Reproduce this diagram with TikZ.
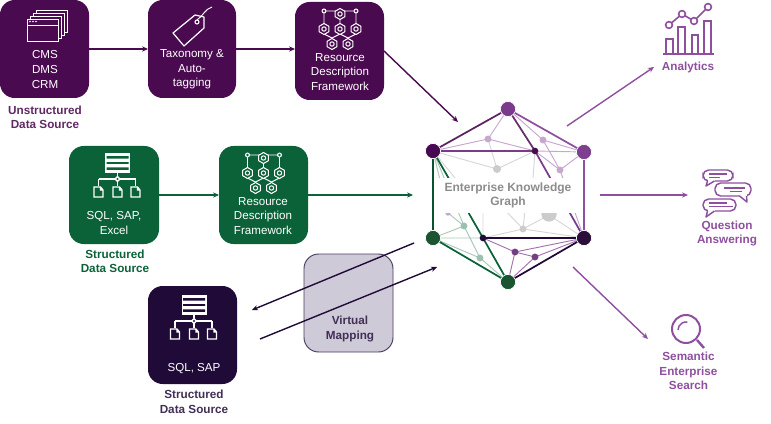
\documentclass[tikz,border=0pt]{standalone}
\usepackage{fontspec}
\setmainfont{Liberation Sans}
\usetikzlibrary{arrows.meta}
\definecolor{pdark}{HTML}{4A0A4F}
\definecolor{gdark}{HTML}{0B6239}
\definecolor{ndark}{HTML}{1F0A38}
\definecolor{pmid}{HTML}{8E4F9E}
\definecolor{vbox}{HTML}{CFCAD8}
\definecolor{lblgray}{HTML}{8C8C8C}
\definecolor{gtop}{HTML}{7A3B8B}
\definecolor{gul}{HTML}{470A52}
\definecolor{gur}{HTML}{7F3F90}
\definecolor{gll}{HTML}{1B5430}
\definecolor{glr}{HTML}{2C0E3A}
\definecolor{gbt}{HTML}{1B5430}
\newcommand{\hexa}[3]{\draw[white,line width=.75pt,fill=#3,shift={(#1,#2)}] (0,-5.5)--(4.8,-2.75)--(4.8,2.75)--(0,5.5)--(-4.8,2.75)--(-4.8,-2.75)--cycle (0,0) circle (2.2);}
\newcommand{\rdficon}[3]{\begin{scope}[shift={(#1,#2)}]
\draw[white,line width=.7pt] (-16,11)--(16,11) (-16,11)--(-16,24) (16,11)--(16,24) (-16,34)--(-8,38) (0,34)--(-8,38) (0,34)--(8,38) (16,34)--(8,38) (-8,38)--(-8,40) (8,38)--(8,40) (0,14)--(0,24);
\fill[white] (-16,11) circle (2.5) (16,11) circle (2.5);
\fill[#3] (-16,11) circle (1.3) (16,11) circle (1.3);
\hexa{0}{14}{#3}\hexa{-16}{29}{#3}\hexa{0}{29}{#3}\hexa{16}{29}{#3}\hexa{-8}{44}{#3}\hexa{8}{44}{#3}
\end{scope}}
\newcommand{\docicon}[3]{\draw[white,line width=1pt,fill=#3,shift={(#1,#2)}] (-4.5,-5)--(2,-5)--(4.5,-2)--(4.5,5)--(-4.5,5)--cycle (2,-5)--(2,-2)--(4.5,-2);}
\newcommand{\srvicon}[3]{\begin{scope}[shift={(#1,#2)}]
\fill[white] (-12.5,0) rectangle (12.5,20);
\fill[#3] (-11,3.2) rectangle (11,5.6) (-11,9.2) rectangle (11,10.8) (-11,14.4) rectangle (11,16.8);
\draw[white,line width=.8pt] (0,20)--(0,23) (-19,26)--(18,26) (-19,26)--(-19,33) (0,26)--(0,33) (18,26)--(18,33);
\fill[white,rotate around={45:(0,26)}] (-2.4,23.6) rectangle (2.4,28.4);
\fill[#3] (0,26) circle (1.1);
\docicon{-19}{39}{#3}\docicon{0}{39}{#3}\docicon{18}{39}{#3}
\end{scope}}
\newcommand{\bubble}[7]{\draw[pmid,line width=1.1pt,rounded corners=4.2pt] (#1,#2) rectangle (#3,#4);
\fill[white] (#5-3.5,#4-1.5) rectangle (#5+3.5,#4+1.5);
\draw[pmid,line width=1.1pt,line join=round] (#5-3.5,#4) -- (#6,#7) -- (#5+3.5,#4);}
\tikzset{
 x=.75pt,y=-.75pt,
 box/.style={rounded corners=11pt,inner sep=0pt,line width=0pt,draw=none},
 btext/.style={text=white,align=center,font=\fontsize{8.7}{10.9}\selectfont,inner sep=0pt},
 lbl/.style={align=center,font=\fontsize{8.8}{10.8}\selectfont\bfseries,inner sep=0pt},
 conn/.style={line width=1.05pt,-{Stealth[length=4.5pt,width=4pt]}},
 gv/.style={circle,inner sep=0pt,minimum size=11.4pt,line width=.5pt,draw=white},
 gi/.style={circle,inner sep=0pt,minimum size=5.2pt},
 e1/.style={line width=.7pt},
 e2/.style={line width=1.3pt},
}
\begin{document}
\begin{tikzpicture}
\useasboundingbox (0,0) rectangle (771,424);
% boxes
\node[box,fill=pdark,minimum width=66.75pt,minimum height=73.5pt] (b1) at (44.5,49) {};
\node[box,fill=pdark,minimum width=66pt,minimum height=73.5pt] (b2) at (192,49) {};
\node[box,fill=pdark,minimum width=66.75pt,minimum height=73.5pt] (b3) at (339.5,51) {};
\node[box,fill=gdark,minimum width=67.5pt,minimum height=73.5pt] (g1) at (114,195) {};
\node[box,fill=gdark,minimum width=66.75pt,minimum height=73.5pt] (g2) at (263.5,195) {};
\node[box,fill=ndark,minimum width=66.75pt,minimum height=73.5pt] (n1) at (192.5,335) {};
\node[box,fill=vbox,draw=ndark!75!vbox,line width=.7pt,minimum width=66.75pt,minimum height=73.5pt] (vm) at (348.5,303) {};
% box texts
\node[btext] (t1) at (45,69.5) {CMS\\DMS\\CRM};
\node[btext] (t2) at (192,69.5) {Taxonomy \&\\Auto-\\tagging};
\node[btext] (t3) at (340,72) {Resource\\Description\\Framework};
\node[btext] (t4) at (114,223) {SQL, SAP,\\Excel};
\node[btext] (t5) at (263,216) {Resource\\Description\\Framework};
\node[btext] (t6) at (194,369) {SQL, SAP};
\node[lbl,text=ndark!85!white] (t7) at (350,329) {Virtual\\Mapping};
% labels
\node[lbl,text=pdark!88!white] (l1) at (45,117.5) {Unstructured\\Data Source};
\node[lbl,text=gdark] (l2) at (115,261.5) {Structured\\Data Source};
\node[lbl,text=ndark!85!white] (l3) at (194,402) {Structured\\Data Source};
\node[lbl,text=pmid] (l4) at (688,67) {Analytics};
\node[lbl,text=pmid] (l5) at (727,233.5) {Question\\Answering};
\node[lbl,text=pmid] (l6) at (688.5,371) {Semantic\\Enterprise\\Search};
% icons
\begin{scope}
\foreach \d in {9,6,3,0}{
 \draw[white,line width=.7pt,fill=pdark,shift={(\d,-\d)}] (27,19) rectangle (58,41);
}
\draw[white,line width=.7pt] (27,25)--(58,25);
\fill[white] (30,21.5) circle (.9) (33,21.5) circle (.9) (36,21.5) circle (.9);
\end{scope}
\draw[white,line width=.9pt,line join=round] (195,15)--(173,33)--(184,46)--(204,28)--(204,17)--cycle;
\draw[white,line width=.8pt] (197,22) circle (2);
\draw[white,line width=.7pt] (197,20) .. controls (203,16) and (205,9) .. (212,7);
\rdficon{340}{0}{pdark}
\rdficon{263.5}{144}{gdark}
\srvicon{117.5}{153}{gdark}
\srvicon{194}{295}{ndark}
% analytics icon
\begin{scope}[pmid]
\draw[line width=1.2pt] (663,54)--(714,54);
\draw[line width=1.2pt] (666,54)--(666,39)--(673,39)--(673,54) (678,54)--(678,27)--(685,27)--(685,54) (692,54)--(692,35)--(698,35)--(698,54) (704,54)--(704,21)--(711,21)--(711,54);
\draw[line width=1.2pt] (669,25)--(682,14)--(694,21)--(708,7);
\draw[line width=1.2pt,fill=white] (669,25) circle (3.4) (682,14) circle (3.4) (694,21) circle (3.4) (708,7) circle (3.4);
\end{scope}
% bubbles
\bubble{703}{170}{733}{181}{711}{706}{186}
\bubble{715}{183}{751}{196}{743}{747}{202}
\bubble{703}{199}{736}{211}{711}{706}{217}
\draw[pmid,line width=.9pt] (709,174)--(727,174) (709,177.5)--(720,177.5) (724,188)--(745,188) (730,191.5)--(742,191.5) (709,203)--(727,203) (709,206.5)--(733,206.5);
% search
\draw[pmid,line width=1.5pt] (686,329) circle (14);
\draw[pmid,line width=1.1pt] (678,330) arc[start angle=180,end angle=280,radius=8];
\draw[pmid,line width=1.8pt] (697,340)--(704,348);
% graph vertices
\coordinate (vT) at (508,109);
\coordinate (vUL) at (433,151);
\coordinate (vUR) at (584,152);
\coordinate (vLL) at (433,238);
\coordinate (vLR) at (584,238);
\coordinate (vB) at (508,282);
\coordinate (a) at (488,139);
\coordinate (c) at (535,151);
\coordinate (d) at (543,140);
\coordinate (f) at (560,170);
\coordinate (g) at (497,169);
\coordinate (h) at (464,226);
\coordinate (i) at (483,238);
\coordinate (j) at (480,258);
\coordinate (k) at (523,229);
\coordinate (m) at (549,215);
\coordinate (n) at (515,252);
\coordinate (o) at (535,257);
\coordinate (q) at (448,213);
% light edges
\begin{scope}[e1,draw=pmid!50!white]
\draw (vT)--(a) (a)--(vUL) (a)--(c) (vT)--(d) (d)--(vUR) (d)--(f) (c)--(f) (f)--(vUR) (c)--(vUR) (f)--(vLR);
\end{scope}
\begin{scope}[e1,draw=black!16]
\draw (a)--(g) (vUL)--(g) (g)--(c) (c)--(533,178) (vUL)--(455,178);
\draw (i)--(k) (k)--(vLR) (k)--(m) (m)--(vLR) (i)--(483,210) (k)--(525,210) (k)--(505,210);
\end{scope}
\begin{scope}[e1,draw=gdark!35!white]
\draw (vLL)--(h) (vLL)--(i) (vLL)--(j) (h)--(j) (j)--(vB) (q)--(h) (vUL)--(q) (vUL)--(h);
\end{scope}
\begin{scope}[e1,draw=pmid!80!white]
\draw (i)--(n) (n)--(vLR) (n)--(vB) (n)--(o) (o)--(vLR) (o)--(vB);
\end{scope}
% strong edges
\draw[e2,draw=pdark!90!white] (vT)--(vUL);
\draw[e2,draw=pmid] (vT)--(vUR) (vUR)--(vLR);
\draw[e2,draw=gtop] (vUL)--(c);
\draw[e2,draw=pdark!85!white] (vT)--(c);
\draw[e2,draw=gtop] (c)--(vLR);
\draw[line width=1.1pt,draw=gdark!85!black] (vUL)--(vLL);
\draw[e2,draw=gdark] (vLL)--(vB) (vUL)--(i) (i)--(vB);
\draw[e2,draw=ndark] (i)--(vLR) (vB)--(vLR);
% inner dots
\node[gi,fill=pmid!50!white] (na) at (a) {};
\node[gi,fill=pmid!50!white] (nd) at (d) {};
\node[gi,fill=pmid!50!white] (nf) at (f) {};
\node[gi,fill=black!20,minimum size=6pt] (ng) at (g) {};
\node[gi,fill=pdark,minimum size=5pt] (nc) at (c) {};
\node[gi,fill=gdark!40!white] (nh) at (h) {};
\node[gi,fill=gdark!40!white] (nj) at (j) {};
\node[gi,fill=ndark,minimum size=5pt] (ni) at (i) {};
\node[gi,fill=black!20] (nk) at (k) {};
\node[gi,fill=black!20,minimum size=11.5pt] (nm) at (549,214) {};
\node[gi,fill=pmid!75!ndark] (nn) at (n) {};
\node[gi,fill=pmid!75!ndark] (no) at (o) {};
\node[gi,fill=pmid!50!white,minimum size=4pt] (nq) at (q) {};
\node[gv,fill=gtop] (nT) at (vT) {};
\node[gv,fill=gul] (nUL) at (vUL) {};
\node[gv,fill=gur] (nUR) at (vUR) {};
\node[gv,fill=gll] (nLL) at (vLL) {};
\node[gv,fill=glr] (nLR) at (vLR) {};
\node[gv,fill=gbt] (nB) at (vB) {};
% central label
\fill[white] (436,178) rectangle (582,213);
\node[align=center,text=lblgray,font=\fontsize{9}{10.9}\selectfont\bfseries,inner sep=0pt] (ekg) at (508,195.5) {Enterprise Knowledge\\Graph};
% connectors
\coordinate (p1) at (458,122);
\coordinate (p2) at (413,195);
\coordinate (p3s) at (414,243);
\coordinate (p3e) at (252,310);
\coordinate (p4s) at (260,339);
\coordinate (p4e) at (437,267);
\coordinate (r1s) at (567,126);
\coordinate (r1e) at (654,67);
\coordinate (r2s) at (600,195);
\coordinate (r2e) at (688,195);
\coordinate (r3s) at (573,267);
\coordinate (r3e) at (648,339);
\draw[conn,pdark] (b1.east |- 0,49)--(b2.west |- 0,49);
\draw[conn,pdark] (b2.east |- 0,49)--(b3.west |- 0,49);
\draw[conn,pdark] (b3.east)--(p1);
\draw[conn,gdark] (g1)--(g2);
\draw[conn,gdark] (g2)--(p2);
\draw[conn,ndark] (p3s)--(p3e);
\draw[conn,ndark] (p4s)--(p4e);
\draw[conn,pmid] (r1s)--(r1e);
\draw[conn,pmid] (r2s)--(r2e);
\draw[conn,pmid] (r3s)--(r3e);
\end{tikzpicture}
\end{document}
